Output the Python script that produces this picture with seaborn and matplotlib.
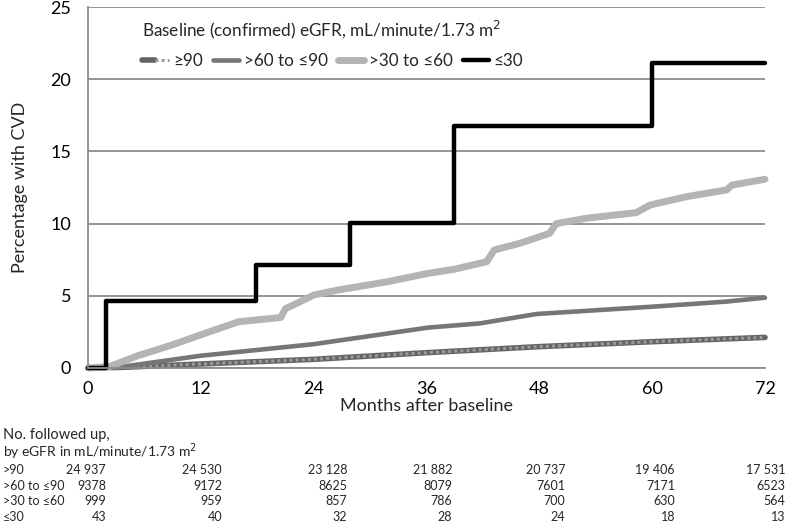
import numpy as np
import pandas as pd
import seaborn as sns
import matplotlib.pyplot as plt
from matplotlib.legend_handler import HandlerTuple
from matplotlib.lines import Line2D

# ---------------- data ----------------
months_ticks = [0, 12, 24, 36, 48, 60, 72]

# <=30 (step function)
m_le30 = [0, 1.95, 17.9, 27.9, 38.9, 60.0, 72]
v_le30 = [0, 4.65, 7.15, 10.07, 16.75, 21.1, 21.1]

# >30 to <=60
m_30_60 = [0, 2.3, 5.3, 8.9, 12, 16, 20.5, 21.0, 24, 26.6, 31.9, 36.2, 38.9, 42.4,
           43.2, 45.9, 49.1, 49.8, 53.0, 58.3, 59.8, 63.7, 67.9, 68.5, 72]
v_30_60 = [0, 0.1, 0.85, 1.59, 2.3, 3.2, 3.5, 4.1, 5.05, 5.4, 5.98, 6.56, 6.83, 7.36,
           8.17, 8.63, 9.33, 10.0, 10.37, 10.76, 11.29, 11.87, 12.33, 12.67, 13.07]

# >60 to <=90
m_60_90 = [0, 3.2, 12, 24, 36.2, 41.7, 43.8, 47.7, 60.1, 67.9, 72]
v_60_90 = [0, 0.05, 0.85, 1.65, 2.8, 3.09, 3.32, 3.74, 4.25, 4.6, 4.87]

# >=90
m_ge90 = [0, 3.9, 12, 24, 36, 48, 60, 72]
v_ge90 = [0, 0.05, 0.28, 0.6, 1.06, 1.48, 1.82, 2.12]

row_labels = [">90", ">60 to \u226490", ">30 to \u226460", "\u226430"]
n_ge90 = ["24 937", "24 530", "23 128", "21 882", "20 737", "19 406", "17 531"]
n_60_90 = ["9378", "9172", "8625", "8079", "7601", "7171", "6523"]
n_30_60 = ["999", "959", "857", "786", "700", "630", "564"]
n_le30 = ["43", "40", "32", "28", "24", "18", "13"]

# ---------------- style ----------------
sns.set_theme(style="white")
plt.rcParams['font.family'] = ['Lato', 'DejaVu Sans']

W, H = 788, 523
fig = plt.figure(figsize=(W / 100, H / 100), dpi=100)
ax = fig.add_axes([88 / W, 1 - 368 / H, (765 - 88) / W, (368 - 7) / H])

grid_c = "#8c8c8c"
c_black = "#000000"
c_light = "#b4b4b4"
c_dark = "#767676"
c_dot_base = "#646464"
c_dot_top = "#9a9a9a"

df_ge90 = pd.DataFrame({"m": m_ge90, "v": v_ge90})
df_60 = pd.DataFrame({"m": m_60_90, "v": v_60_90})
df_30 = pd.DataFrame({"m": m_30_60, "v": v_30_60})
df_le = pd.DataFrame({"m": m_le30, "v": v_le30})

kw = dict(ax=ax, x="m", y="v", estimator=None, sort=False, legend=False)
sns.lineplot(data=df_ge90, color=c_dot_base, lw=4.0, solid_capstyle="round", **kw)
sns.lineplot(data=df_ge90, color=c_dot_top, lw=2.2, linestyle=(0, (1.0, 1.0)), **kw)
sns.lineplot(data=df_60, color=c_dark, lw=3.3, solid_capstyle="round", **kw)
sns.lineplot(data=df_30, color=c_light, lw=5.0, solid_capstyle="round", **kw)
sns.lineplot(data=df_le, color=c_black, lw=3.2, drawstyle="steps-post",
             solid_capstyle="round", **kw)
for ln in ax.lines:
    ln.set_clip_on(False)

ax.set_xlim(0, 72)
ax.set_ylim(0, 25)
ax.set_xticks(months_ticks)
ax.set_yticks([0, 5, 10, 15, 20, 25])
ax.yaxis.grid(True, color=grid_c, lw=1.3)
ax.set_axisbelow(True)
for s in ["top", "right"]:
    ax.spines[s].set_visible(False)
for s in ["left", "bottom"]:
    ax.spines[s].set_color(grid_c)
    ax.spines[s].set_linewidth(1.3)
ax.tick_params(axis="both", direction="out", length=4, width=1.3, color=grid_c,
               labelsize=13, colors=grid_c, labelcolor="black")
ax.tick_params(axis="x", pad=5)
ax.tick_params(axis="y", pad=8)
ax.set_xlabel("Months after baseline", fontsize=13, labelpad=1)
ax.set_ylabel("Percentage with CVD", fontsize=13, labelpad=16)

# legend
h_ge90 = (Line2D([], [], color=c_dot_base, lw=4.0, solid_capstyle="round"),
          Line2D([], [], color=c_dot_top, lw=2.2, linestyle=(0, (1.0, 1.0))))
h_60 = Line2D([], [], color=c_dark, lw=3.3, solid_capstyle="round")
h_30 = Line2D([], [], color=c_light, lw=5.0, solid_capstyle="round")
h_le = Line2D([], [], color=c_black, lw=3.2, solid_capstyle="round")
leg = ax.legend([h_ge90, h_60, h_30, h_le],
                ["\u226590", ">60 to \u226490", ">30 to \u226460", "\u226430"],
                handler_map={tuple: HandlerTuple(ndivide=None, pad=0)},
                title="Baseline (confirmed) eGFR, mL/minute/1.73 m$^2$",
                ncol=4, frameon=False, fontsize=12.3, title_fontsize=12.3,
                handlelength=1.55, handletextpad=0.25, columnspacing=0.6,
                borderpad=0, borderaxespad=0, labelspacing=0,
                loc="upper left", bbox_to_anchor=(0.08, 0.968),
                alignment="left")
leg._legend_box.sep = 9

# follow-up table
fig.text(3 / W, 1 - 435 / H, "No. followed up,", fontsize=10.5, va="center", ha="left")
fig.text(3 / W, 1 - 452 / H, "by eGFR in mL/minute/1.73 m$^2$", fontsize=10,
         va="center", ha="left")
col_right_px = [106, 222, 347, 452, 565, 675, 785]
row_y_px = [470, 486, 501, 517]
for lab, vals, ypx in zip(row_labels, [n_ge90, n_60_90, n_30_60, n_le30], row_y_px):
    fig.text(3 / W, 1 - ypx / H, lab, fontsize=9, va="center", ha="left")
    for v, xpx in zip(vals, col_right_px):
        fig.text(xpx / W, 1 - ypx / H, v, fontsize=9, va="center", ha="right")

fig.savefig("out.png", dpi=100)
